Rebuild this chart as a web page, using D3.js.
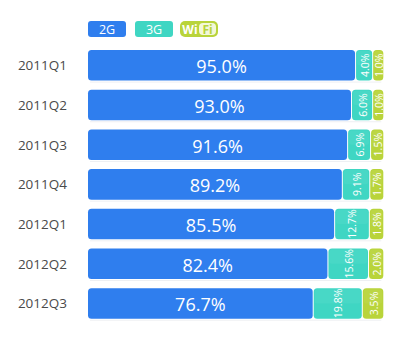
<!DOCTYPE html>
<html><head><meta charset="utf-8">
<script src="https://cdn.jsdelivr.net/npm/d3@7"></script>
<style>
html,body{margin:0;padding:0;background:#fff;}
svg{display:block;}
</style></head>
<body>
<script>
const categories = ['2011Q1','2011Q2','2011Q3','2011Q4','2012Q1','2012Q2','2012Q3'];
const s2G = [95.0, 93.0, 91.6, 89.2, 85.5, 82.4, 76.7];
const s3G = [4.0, 6.0, 6.9, 9.1, 12.7, 15.6, 19.8];
const sWiFi = [1.0, 1.0, 1.5, 1.7, 1.8, 2.0, 3.5];
const legendLabels = ['2G', '3G'];

const W = 400, H = 338;
const colors = {g2: '#2f7eee', g3: '#3fd6c3', wifi: '#b9d43a'};
const font = '"Open Sans","Noto Sans",sans-serif';

const svg = d3.select('body').append('svg').attr('width', W).attr('height', H);

const y = d3.scaleBand().domain(categories).range([50, 318.7]).paddingInner(0.23).paddingOuter(0);
const x = d3.scaleLinear().domain([0, 100]).range([88, 383.3]);
// minor segments keep room for their rotated labels
const w3G = d3.scaleLinear().domain([0, 20]).range([8, 48.5]);
const wWiFi = d3.scaleLinear().domain([0, 3.5]).range([6, 20.5]);
const gap = 1;

const rows = categories.map((c, i) => {
  const total = x(100) - x(0);
  const wG = wWiFi(sWiFi[i]);
  const wT = w3G(s3G[i]);
  const wB = total - wG - wT - 2 * gap;
  const x0 = x(0);
  return {c, i, segs: [
    {x: x0, w: wB, v: s2G[i], col: colors.g2, type: 'b'},
    {x: x0 + wB + gap, w: wT, v: s3G[i], col: colors.g3, type: 'm'},
    {x: x0 + wB + wT + 2 * gap, w: wG, v: sWiFi[i], col: colors.wifi, type: 'm'}
  ]};
});

// category labels
svg.append('g').selectAll('text').data(categories).join('text')
  .attr('x', 67).attr('y', d => y(d) + y.bandwidth() / 2)
  .attr('text-anchor', 'end').attr('dominant-baseline', 'central')
  .attr('font-family', font).attr('font-size', 13.5).attr('fill', '#4a4a4a')
  .text(d => d);

const rowG = svg.append('g').selectAll('g').data(rows).join('g')
  .attr('transform', d => `translate(0,${y(d.c)})`);

// faint shadow line under each bar
rowG.append('rect').attr('x', x(0) + 2).attr('y', y.bandwidth() + 1)
  .attr('width', x(100) - x(0) - 4).attr('height', 1).attr('fill', '#eef0f3');

const seg = rowG.selectAll('g.seg').data(d => d.segs).join('g').attr('class', 'seg');
seg.append('rect')
  .attr('x', d => d.x).attr('y', 0).attr('width', d => d.w).attr('height', y.bandwidth())
  .attr('rx', 3.5).attr('fill', d => d.col);
// subtle gloss on top half of the small segments
seg.filter(d => d.type === 'm').append('rect')
  .attr('x', d => d.x + 1).attr('y', 1).attr('width', d => d.w - 2).attr('height', y.bandwidth() / 2 - 1)
  .attr('rx', 2.5).attr('fill', '#fff').attr('opacity', 0.05);

seg.filter(d => d.type === 'b').append('text')
  .attr('x', d => d.x + d.w / 2).attr('y', y.bandwidth() / 2 + 1)
  .attr('text-anchor', 'middle').attr('dominant-baseline', 'central')
  .attr('font-family', font).attr('font-size', 18).attr('fill', '#fff')
  .text(d => d.v.toFixed(1) + '%');

seg.filter(d => d.type === 'm').append('text')
  .attr('transform', d => `translate(${d.x + d.w / 2 + 0.5},${y.bandwidth() / 2}) rotate(-90)`)
  .attr('text-anchor', 'middle').attr('dominant-baseline', 'central')
  .attr('font-family', font).attr('font-size', 10.5).attr('fill', '#fff')
  .text(d => d.v.toFixed(1) + '%');

// legend
const lg = svg.append('g');
const legendItems = [
  {label: legendLabels[0], col: colors.g2, x: 88},
  {label: legendLabels[1], col: colors.g3, x: 135}
];
legendItems.forEach(it => {
  lg.append('rect').attr('x', it.x).attr('y', 21).attr('width', 38).attr('height', 16)
    .attr('rx', 3).attr('fill', it.col);
  lg.append('text').attr('x', it.x + 19).attr('y', 29.5)
    .attr('text-anchor', 'middle').attr('dominant-baseline', 'central')
    .attr('font-family', font).attr('font-size', 12.5).attr('fill', '#fff').text(it.label);
});
// WiFi logo legend
const wx = 180;
lg.append('rect').attr('x', wx).attr('y', 21).attr('width', 38).attr('height', 16)
  .attr('rx', 5).attr('fill', colors.wifi);
lg.append('rect').attr('x', wx + 19).attr('y', 23).attr('width', 17).attr('height', 12)
  .attr('rx', 4).attr('fill', '#f3f8d8');
lg.append('text').attr('x', wx + 10).attr('y', 29.5)
  .attr('text-anchor', 'middle').attr('dominant-baseline', 'central')
  .attr('font-family', font).attr('font-weight', 'bold').attr('font-size', 12).attr('fill', '#fff').text('Wi');
lg.append('text').attr('x', wx + 27.5).attr('y', 29.5)
  .attr('text-anchor', 'middle').attr('dominant-baseline', 'central')
  .attr('font-family', font).attr('font-weight', 'bold').attr('font-size', 12).attr('fill', colors.wifi).text('Fi');
</script>
</body></html>
